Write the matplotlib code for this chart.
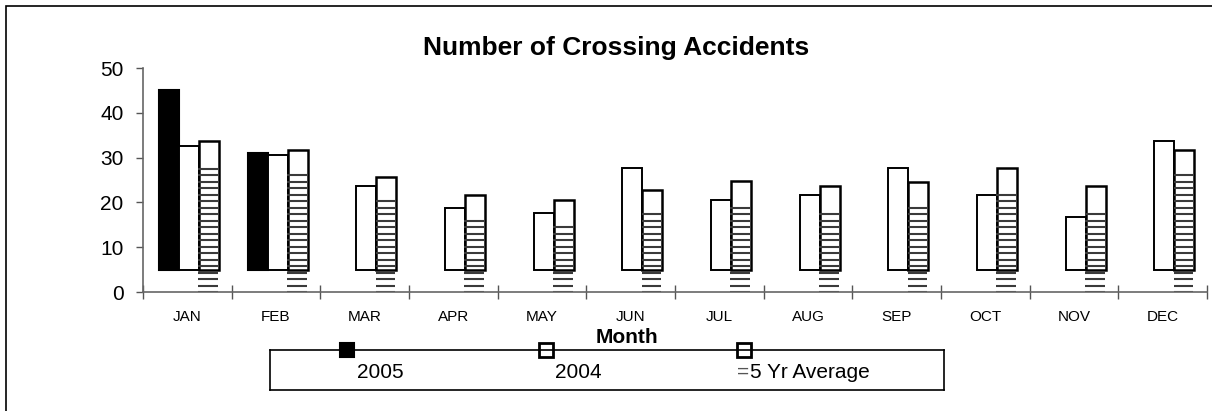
import numpy as np
import matplotlib
matplotlib.use("Agg")
import matplotlib.pyplot as plt
from matplotlib.patches import Rectangle

plt.rcParams['font.family'] = ['Liberation Sans', 'DejaVu Sans']

# data (bar tops), bars sit on a base of ~4.8
months = ['JAN', 'FEB', 'MAR', 'APR', 'MAY', 'JUN',
          'JUL', 'AUG', 'SEP', 'OCT', 'NOV', 'DEC']
y2005 = [45, 31, np.nan, np.nan, np.nan, np.nan,
         np.nan, np.nan, np.nan, np.nan, np.nan, np.nan]
y2004 = [32.6, 30.6, 23.7, 18.7, 17.6, 27.6, 20.6, 21.6, 27.6, 21.6, 16.7, 33.7]
avg5 = [33.7, 31.7, 25.6, 21.6, 20.6, 22.7, 24.7, 23.6, 24.6, 27.6, 23.7, 31.6]
# the striped part of the 5 yr average bars, drawn up from zero
avg5_stripes = [28.2, 26.9, 20.8, 16.3, 15.0, 17.9, 19.3, 17.9, 19.3, 22.4, 17.9, 26.9]
base = 4.8
stripe_step = 1.45

W, H = 1212, 411
fig = plt.figure(figsize=(W / 100, H / 100), dpi=100)
ax = fig.add_axes([143 / W, 1 - 292 / H, 1064 / W, 224 / H])

x = np.arange(len(months))
bw = 0.225
off = 0.02

def heights(vals):
    return [v - base for v in vals]

ax.bar(x - bw + off, heights(y2005), bw, bottom=base, color='black',
       edgecolor='black', linewidth=1.5, zorder=2)
ax.bar(x + off, heights(y2004), bw, bottom=base, color='white',
       edgecolor='black', linewidth=1.4, zorder=2)
ax.bar(x + bw + off, heights(avg5), bw, bottom=base, color='white',
       edgecolor='black', linewidth=1.8, zorder=3)

# horizontal stripes of the 5 yr average
for xi, top in zip(x, avg5_stripes):
    cx = xi + bw + off - 0.01
    levels = np.arange(0, top + 0.01, stripe_step)
    ax.hlines(levels, cx - bw / 2, cx + bw / 2, color='#3a3a3a',
              linewidth=1.5, zorder=4)

ax.set_xlim(-0.5, len(months) - 0.5)
ax.set_ylim(0, 50)
ax.set_yticks(range(0, 51, 10))
ax.tick_params(axis='y', direction='out', length=5, width=1, color='#555555',
               labelsize=15, pad=9)
ax.set_xticks(x)
ax.set_xticklabels(months)
ax.tick_params(axis='x', which='major', length=0, labelsize=11, pad=13)
ax.set_xticks(np.arange(-0.5, len(months), 1), minor=True)
ax.tick_params(axis='x', which='minor', direction='inout', length=10,
               width=1, color='#555555')
for s in ['top', 'right']:
    ax.spines[s].set_visible(False)
for s in ['left', 'bottom']:
    ax.spines[s].set_color('#666666')
    ax.spines[s].set_linewidth(1.2)
ax.spines['bottom'].set_zorder(5)

fig.text(616 / W, 1 - 48 / H, 'Number of Crossing Accidents', ha='center',
         va='center', fontsize=19, fontweight='bold')
fig.text(627 / W, 1 - 337 / H, 'Month', ha='center', va='center',
         fontsize=15, fontweight='bold')

# legend box
lg = fig.add_axes([270 / W, 1 - 390 / H, 674 / W, 40 / H])
lg.set_xlim(0, 1)
lg.set_ylim(0, 1)
lg.set_xticks([])
lg.set_yticks([])
for s in lg.spines.values():
    s.set_linewidth(1.2)
    s.set_color('black')
lg.plot([0.114], [1.0], marker='s', ms=10, mfc='black', mec='black',
        mew=1.5, clip_on=False)
lg.plot([0.409], [1.0], marker='s', ms=10, mfc='white', mec='black',
        mew=2, clip_on=False)
lg.plot([0.704], [1.0], marker='s', ms=10, mfc='white', mec='black',
        mew=2, clip_on=False)
lg.text(0.163, 0.45, '2005', ha='center', va='center', fontsize=15)
lg.text(0.457, 0.45, '2004', ha='center', va='center', fontsize=15)
lg.text(0.702, 0.45, '=', ha='center', va='center', fontsize=15, color='#555555')
lg.text(0.712, 0.45, '5 Yr Average', ha='left', va='center', fontsize=15)

# outer chart border (right and bottom edges fall outside the image)
fig.add_artist(Rectangle((6 / W, -0.5), 2.0, 1.5 - 6 / H, transform=fig.transFigure,
                         fill=False, edgecolor='black', linewidth=1.2))

fig.savefig('out.png', dpi=100)
